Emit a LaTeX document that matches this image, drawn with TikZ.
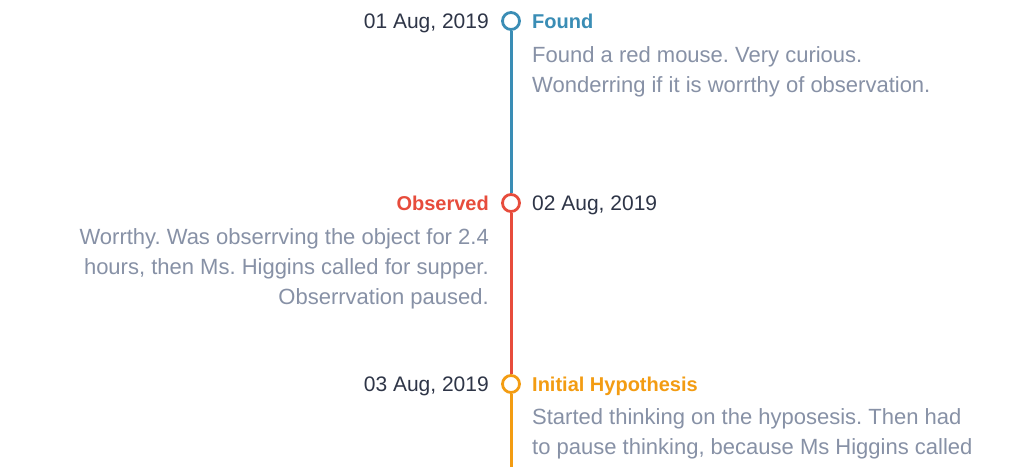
\documentclass[tikz,border=0pt]{standalone}
\usepackage{fontspec}
\setmainfont{Liberation Sans}
\frenchspacing
\definecolor{cblue}{HTML}{3A8DB5}
\definecolor{cred}{HTML}{E74C3C}
\definecolor{corange}{HTML}{F39C12}
\definecolor{cgray}{HTML}{8791A6}
\definecolor{cdate}{HTML}{2E3547}
\begin{document}
\begin{tikzpicture}[x=1pt,y=-1pt,
  dot/.style={circle,draw=#1,fill=white,line width=2.8pt,minimum size=17pt,inner sep=0pt},
  seg/.style={draw=#1,line width=3pt},
  datetxt/.style={font=\fontsize{21}{30}\selectfont,text=cdate,inner sep=0pt},
  title/.style={font=\fontsize{20}{30}\selectfont\bfseries,text=#1,inner sep=0pt},
  desc/.style={font=\fontsize{22}{30}\selectfont,text=cgray,inner sep=0pt}]
\useasboundingbox[fill=white] (0,0) rectangle (1012,466);
\coordinate (end) at (511,470);
\node[dot=cblue] (c1) at (511,21) {};
\node[dot=cred] (c2) at (511,203) {};
\node[dot=corange] (c3) at (511,384) {};
\draw[seg=cblue] (c1.south) -- (c2.north);
\draw[seg=cred] (c2.south) -- (c3.north);
\draw[seg=corange] (c3.south) -- (end);
% entry 1
\node[datetxt,anchor=base east] (d1) at (489,28.5) {01 Aug, 2019};
\node[title=cblue,anchor=base west] (t1) at (532,28.5) {Found};
\node[desc,anchor=base west] (p1a) at (532,62) {Found a red mouse. Very curious.};
\node[desc,anchor=base west] (p1b) at (532,92) {Wonderring if it is worrthy of observation.};
% entry 2
\node[title=cred,anchor=base east] (t2) at (489,210.5) {Observed};
\node[datetxt,anchor=base west] (d2) at (532,210.5) {02 Aug, 2019};
\node[desc,anchor=base east] (p2a) at (489,244) {Worrthy. Was obserrving the object for 2.4};
\node[desc,anchor=base east] (p2b) at (489,274) {hours, then Ms. Higgins called for supper.};
\node[desc,anchor=base east] (p2c) at (489,304) {Obserrvation paused.};
% entry 3
\node[datetxt,anchor=base east] (d3) at (489,391.5) {03 Aug, 2019};
\node[title=corange,anchor=base west] (t3) at (532,391.5) {Initial Hypothesis};
\node[desc,anchor=base west] (p3a) at (532,424) {Started thinking on the hyposesis. Then had};
\node[desc,anchor=base west] (p3b) at (532,454) {to pause thinking, because Ms Higgins called};
\end{tikzpicture}
\end{document}
